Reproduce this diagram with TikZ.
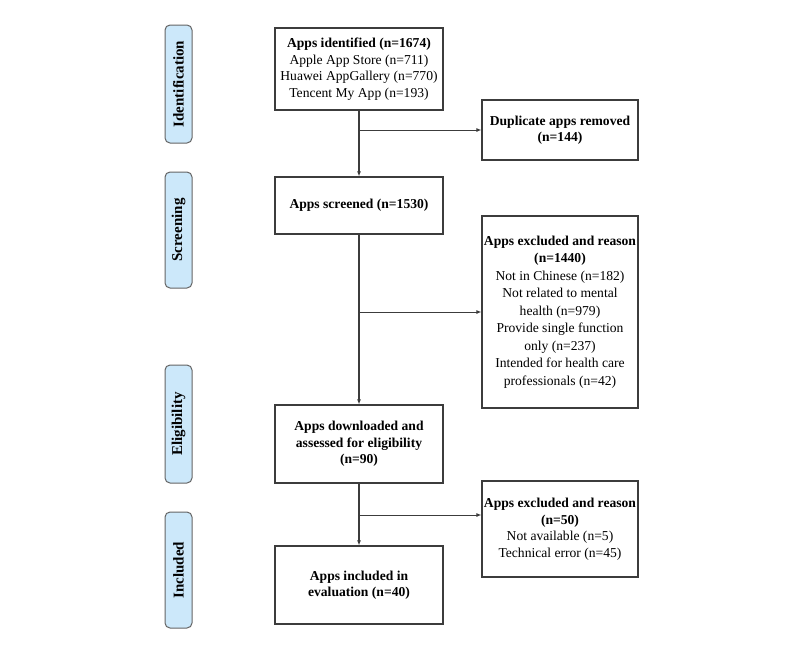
\documentclass[tikz,border=0pt]{standalone}
\usepackage{fontspec}
\setmainfont{Liberation Serif}
\usetikzlibrary{arrows.meta}
\definecolor{sidefill}{RGB}{204,232,250}
\definecolor{boxline}{RGB}{60,60,60}
\definecolor{sideline}{RGB}{100,100,100}
\begin{document}
\begin{tikzpicture}[x=1pt,y=-1pt,
 box/.style={draw=boxline, line width=1.2pt, align=center, inner sep=0pt, font=\fontsize{13.6}{16.5}\selectfont},
 side/.style={draw=sideline, fill=sidefill, rounded corners=5pt, line width=1pt, inner sep=0pt, font=\bfseries\fontsize{15}{17}\selectfont},
 flow/.style={line width=1.8pt, draw=boxline, -{Latex[length=5pt,width=4pt]}},
 branch/.style={line width=0.9pt, draw=boxline, -{Latex[length=5pt,width=4pt]}}]
\useasboundingbox (0,0) rectangle (800,667);
% side labels
\node[side, minimum width=118, minimum height=27, rotate=90] (sid) at (178.5,84) {Identification};
\node[side, minimum width=116, minimum height=27, rotate=90] (sscr) at (178.5,230) {Screening};
\node[side, minimum width=118, minimum height=27, rotate=90] (sel) at (178.5,424) {Eligibility};
\node[side, minimum width=116, minimum height=27, rotate=90] (sinc) at (178.5,570) {Included};
% boxes
\node[box, minimum width=168, minimum height=82] (id) at (359,69) {\textbf{Apps identified (n=1674)}\\Apple App Store (n=711)\\Huawei AppGallery (n=770)\\Tencent My App (n=193)};
\node[box, minimum width=156, minimum height=60] (dup) at (560,130) {\textbf{Duplicate apps removed}\\\textbf{(n=144)}};
\node[box, minimum width=168, minimum height=57] (scr) at (359,205.5) {\textbf{Apps screened (n=1530)}};
\node[box, minimum width=156, minimum height=192, font=\fontsize{13.6}{17.5}\selectfont] (ex1) at (560,312) {\textbf{Apps excluded and reason}\\\textbf{(n=1440)}\\Not in Chinese (n=182)\\Not related to mental\\health (n=979)\\Provide single function\\only (n=237)\\Intended for health care\\professionals (n=42)};
\node[box, minimum width=168, minimum height=78] (dl) at (359,444) {\textbf{Apps downloaded and}\\\textbf{assessed for eligibility}\\\textbf{(n=90)}};
\node[box, minimum width=156, minimum height=96] (ex2) at (560,529) {\textbf{Apps excluded and reason}\\\textbf{(n=50)}\\Not available (n=5)\\Technical error (n=45)};
\node[box, minimum width=168, minimum height=78] (inc) at (359,585) {\textbf{Apps included in}\\\textbf{evaluation (n=40)}};
% connectors
\draw[flow] (id.south) -- (scr.north);
\draw[flow] (scr.south) -- (dl.north);
\draw[flow] (dl.south) -- (inc.north);
\draw[branch] (id.south |- dup.west) -- (dup.west);
\draw[branch] (scr.south |- ex1.west) -- (ex1.west);
\coordinate (j3) at (359,515);
\draw[branch] (j3) -- (j3 -| ex2.west);
\end{tikzpicture}
\end{document}
